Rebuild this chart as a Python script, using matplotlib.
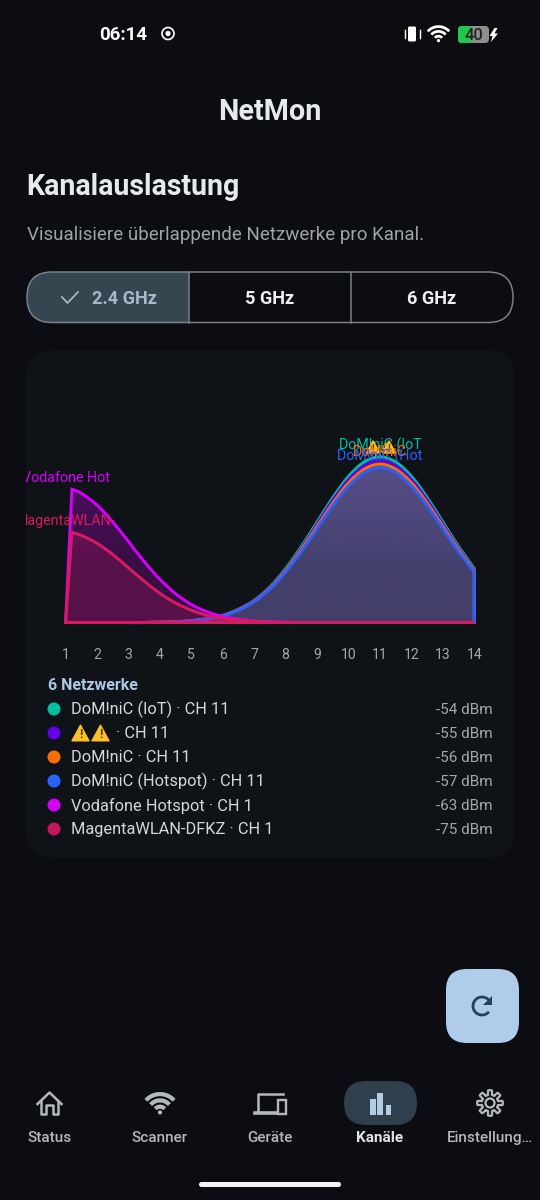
import numpy as np
import matplotlib
matplotlib.use("Agg")
import matplotlib.pyplot as plt
from matplotlib.patches import Circle, FancyBboxPatch, PathPatch, Polygon, Rectangle
from matplotlib.path import Path

plt.rcParams["font.family"] = ["Roboto", "DejaVu Sans"]

# channel grids the curves were read on
channels = [1, 1.5, 2, 2.5, 3, 3.5, 4, 4.5, 5, 5.5, 6, 6.5, 7, 7.5, 8, 8.5, 9, 9.5,
            10, 10.5, 11, 11.5, 12, 12.5, 13, 13.5, 14]
channels_low = [1, 1.2, 1.5, 2, 2.5, 3, 3.5, 4, 4.5, 5, 5.5, 6, 6.5, 7, 7.5, 8, 8.5,
                9, 9.5, 10, 11, 12, 13, 14]

# signal curves in dBm
iot = [-100, -100, -100, -100, -100, -100, -99.9, -99.8, -99.5, -98.9, -98.0, -96.3, -93.8,
       -90.1, -85.0, -78.9, -72.1, -65.3, -59.4, -55.4, -54, -55.4, -59.4, -65.3, -72.1, -78.9, -85.0]
warn = [-100, -100, -100, -100, -100, -100, -99.9, -99.8, -99.5, -99.0, -98.0, -96.4, -93.9,
        -90.3, -85.4, -79.4, -72.7, -66.0, -60.3, -56.4, -55, -56.4, -60.3, -66.0, -72.7, -79.4, -85.4]
dominic = [-100, -100, -100, -100, -100, -100, -99.9, -99.8, -99.5, -99.0, -98.1, -96.5, -94.1,
           -90.5, -85.7, -79.8, -73.3, -66.8, -61.2, -57.4, -56, -57.4, -61.2, -66.8, -73.3, -79.8, -85.7]
hotspot = [-100, -100, -100, -100, -100, -100, -99.9, -99.8, -99.5, -99.0, -98.1, -96.6, -94.2,
           -90.7, -86.0, -80.3, -73.9, -67.5, -62.1, -58.3, -57, -58.3, -62.1, -67.5, -73.9, -80.3, -86.0]
vodafone = [-100, -63, -64.1, -67.4, -72.1, -77.5, -83.1, -88.0, -92.0, -95.0, -97.0, -98.4,
            -99.1, -99.6, -99.8, -99.9, -100, -100, -100, -100, -100, -100, -100, -100]
magenta = [-100, -75, -75.8, -78.0, -81.1, -84.8, -88.5, -91.9, -94.6, -96.6, -98.0, -98.9,
           -99.4, -99.7, -99.9, -100, -100, -100, -100, -100, -100, -100, -100, -100]

names = ["DoM!niC (IoT)", "\u26a0\u26a0", "DoM!niC", "DoM!niC (Hotspot)", "Vodafone Hotspot", "MagentaWLAN-DFKZ"]
peak_channels = [11, 11, 11, 11, 1, 1]
levels = [-54, -55, -56, -57, -63, -75]
colors = ["#00BFA5", "#6200EA", "#FF6D00", "#2962FF", "#D500F9", "#D81B60"]
dot_colors = ["#00BFA5", "#6200EA", "#FF6D00", "#2962FF", "#D500F9", "#C2185B"]
tick_channels = list(range(1, 15))

BG = "#0b0d12"
CARD = "#0f1317"
ICON = "#b4b8bc"
ACTIVE = "#b3cde4"

# pixel placement of the plot area
PX_CH1, PX_CH14, PX_FLOOR, PX_PER_DB = 65.6, 474.3, 622.5, 3.6
AX_L, AX_R, AX_T, AX_B = 26, 514, 360, 626


def px(size):
    return size * 0.72


def arc(target, cx, cy, r, a0, a1, color, lw):
    t = np.radians(np.linspace(a0, a1, 40))
    target.plot(cx + r * np.cos(t), cy - r * np.sin(t), color=color, lw=lw, solid_capstyle="butt")


def wifi_icon(target, cx, cy, s, color, lw):
    for r in (0.6, 1.2, 1.8):
        arc(target, cx, cy, r * s, 42, 138, color, lw)
    target.add_patch(Circle((cx, cy - 0.05 * s), 0.2 * s, color=color, lw=0))


def warn_mark(target, x, y, w):
    # yellow emoji look: filled triangle with a dark bang
    h = w * 0.92
    tri = Polygon([(x, y + h / 2), (x + w, y + h / 2), (x + w / 2, y - h / 2)], closed=True,
                  fc="#fbc02d", ec="#fbc02d", lw=1, joinstyle="round", zorder=20)
    target.add_patch(tri)
    target.text(x + w / 2, y + 1.5, "!", color="#5a4208", ha="center", va="center",
                fontsize=px(w * 0.75), fontweight="bold", zorder=21)


def curve_path(xs, ys):
    pts = np.column_stack([xs, ys])
    verts = [pts[0], pts[1]]
    codes = [Path.MOVETO, Path.LINETO]
    n = len(pts)
    for i in range(1, n - 1):
        prev_pt = pts[i - 1] if i > 1 else pts[i]
        next_pt = pts[i + 2] if i + 2 < n else pts[i + 1]
        verts += [pts[i] + (pts[i + 1] - prev_pt) / 6, pts[i + 1] - (next_pt - pts[i]) / 6, pts[i + 1]]
        codes += [Path.CURVE4] * 3
    verts += [(xs[-1], -100), (xs[0], -100), pts[0]]
    codes += [Path.LINETO, Path.LINETO, Path.CLOSEPOLY]
    return Path(verts, codes)


def draw_series(ax, xs, ys, color, zorder, top):
    path = curve_path(xs, ys)
    rgb = matplotlib.colors.to_rgb(color)
    grad = np.zeros((2, 1, 4))
    grad[..., :3] = rgb
    grad[0, 0, 3] = 0.31
    grad[1, 0, 3] = 0.2
    img = ax.imshow(grad, extent=(1, 14, -100, top), origin="upper", aspect="auto",
                    interpolation="bilinear", zorder=zorder)
    outline = PathPatch(path, fc="none", ec=color, lw=px(3), joinstyle="miter", zorder=zorder + 0.5)
    ax.add_patch(outline)
    img.set_clip_path(outline)
    outline.set_clip_on(False)


fig = plt.figure(figsize=(5.4, 12), dpi=100, facecolor=BG)
ui = fig.add_axes([0, 0, 1, 1])
ui.set_xlim(0, 540)
ui.set_ylim(1200, 0)
ui.axis("off")

# status bar
ui.text(123.5, 34.5, "06:14", color="white", fontsize=px(18.8), fontweight="bold", ha="center", va="center")
ui.add_patch(Circle((168, 33.5), 6, fc="none", ec="white", lw=1.2))
ui.add_patch(Circle((168, 33.5), 2.6, color="white", lw=0))
ui.add_patch(FancyBboxPatch((408, 26.5), 8, 15, boxstyle="round,pad=0,rounding_size=1.5", fc="white", ec="none"))
ui.plot([404.5, 404.5], [30, 38], color="white", lw=1)
ui.plot([419.5, 419.5], [30, 38], color="white", lw=1)
wifi_icon(ui, 438.5, 41, 8, "white", 2)
batt = FancyBboxPatch((458, 26), 31, 17, boxstyle="round,pad=0,rounding_size=4", fc="#8e8e8e", ec="none")
ui.add_patch(batt)
green = Rectangle((458, 26), 13, 17, fc="#22c84e", ec="none")
ui.add_patch(green)
green.set_clip_path(batt)
ui.text(474, 35.5, "40", color="#222", fontsize=px(16.5), fontweight="medium", ha="center", va="center")
ui.add_patch(Polygon([(494.5, 28), (489.5, 36), (492.5, 36), (491, 42), (498, 33.5), (494.5, 33.5), (497.5, 28)],
                     closed=True, fc="white", ec="none"))

# header
ui.text(270, 112, "NetMon", color="#e6e9ee", fontsize=px(28.7), fontweight="bold", ha="center", va="center")
ui.text(26.5, 187, "Kanalauslastung", color="#e6e9ee", fontsize=px(28.5), fontweight="bold", va="center")
ui.text(27, 235, "Visualisiere \u00fcberlappende Netzwerke pro Kanal.", color="#9ea3a8",
        fontsize=px(18.8), va="center")

# band selector
seg = FancyBboxPatch((27, 272), 486, 50.5, boxstyle="round,pad=0,rounding_size=25", fc="none", ec="#7b8085", lw=1.1, zorder=3)
ui.add_patch(seg)
sel = Rectangle((27, 272), 162, 51, fc="#364651", ec="none", zorder=2)
ui.add_patch(sel)
sel.set_clip_path(seg)
ui.plot([189, 189], [272, 322.5], color="#7b8085", lw=1.1, zorder=3)
ui.plot([350.5, 350.5], [272, 322.5], color="#7b8085", lw=1.1, zorder=3)
ui.plot([62, 67.5, 78], [297, 303, 292], color="#aebfcd", lw=1.2, zorder=4)
ui.text(125, 298.5, "2.4 GHz", color="#a6b9c9", fontsize=px(18.2), fontweight="semibold", ha="center", va="center", zorder=4)
ui.text(270, 298.5, "5 GHz", color="#eef0f2", fontsize=px(18.2), fontweight="semibold", ha="center", va="center", zorder=4)
ui.text(431.5, 298.5, "6 GHz", color="#eef0f2", fontsize=px(18.2), fontweight="semibold", ha="center", va="center", zorder=4)

# card
ui.add_patch(FancyBboxPatch((26, 350), 488, 508, boxstyle="round,pad=0,rounding_size=28", fc=CARD, ec="none"))

# chart
px_per_ch = (PX_CH14 - PX_CH1) / 13
ax = fig.add_axes([AX_L / 540, 1 - AX_B / 1200, (AX_R - AX_L) / 540, (AX_B - AX_T) / 1200])
ax.patch.set_alpha(0)
for side in ax.spines.values():
    side.set_visible(False)
for grid_level in (-90, -70, -50):
    ax.axhline(grid_level, color="#171b20", lw=0.7, ls=(0, (2, 2)), zorder=0)

ch11_series = [iot, warn, dominic, hotspot]
ch1_series = [vodafone, magenta]
for i, ys in enumerate(ch11_series):
    draw_series(ax, channels, ys, colors[i], 2 + i, -46)
for i, ys in enumerate(ch1_series):
    draw_series(ax, channels_low, ys, colors[4 + i], 6 + i, -46)

ax.set_xlim(1 - (PX_CH1 - AX_L) / px_per_ch, 14 + (AX_R - PX_CH14) / px_per_ch)
ax.set_ylim(-100 - (AX_B - PX_FLOOR) / PX_PER_DB, -100 + (PX_FLOOR - AX_T) / PX_PER_DB)
ax.set_yticks([])
ax.set_xticks(tick_channels)
ax.tick_params(axis="x", length=0, pad=15.5, labelsize=px(14), labelcolor="#a3a7ab")

# name labels above each peak, cut to 12 chars like the app does
for i in (0, 4, 5):
    ax.annotate(names[i][:12], (peak_channels[i], levels[i]), xytext=(0, px(11.5)), textcoords="offset points",
                color=colors[i], fontsize=px(14.3), ha="center", va="center", clip_on=True, zorder=12)

# the stacked labels at channel 11 sit on top of the curves
top_layer = fig.add_axes([0, 0, 1, 1], xlim=(0, 540), ylim=(1200, 0))
top_layer.axis("off")
warn_x = PX_CH1 + 10 * px_per_ch
top_layer.text(warn_x, 448, names[1], color="#fbc02d", fontsize=px(14), ha="center", va="center",
               family="DejaVu Sans", zorder=19)
warn_mark(top_layer, warn_x - 13.5, 447, 13)
warn_mark(top_layer, warn_x + 2.5, 447, 13)
top_layer.text(warn_x, 452, names[2][:12], color=colors[2], fontsize=px(14.3), ha="center", va="center", zorder=22)
top_layer.text(warn_x, 456, names[3][:12], color=colors[3], fontsize=px(14.3), ha="center", va="center", zorder=23)

# legend
ui.text(48, 686, "6 Netzwerke", color="#a9c8e6", fontsize=px(16), fontweight="bold", va="center")
for row, (name, ch, level, color) in enumerate(zip(names, peak_channels, levels, dot_colors)):
    y = 709 + row * 24
    ui.add_patch(Circle((54, y), 6.5, color=color, lw=0))
    if name.startswith("\u26a0"):
        warn_mark(ui, 72, y, 17)
        warn_mark(ui, 92, y, 17)
        ui.text(116, y + 0.5, f"\u00b7 CH {ch}", color="#d3d6da", fontsize=px(16.4), va="center")
    else:
        ui.text(71, y + 0.5, f"{name} \u00b7 CH {ch}", color="#d3d6da", fontsize=px(16.4), va="center")
    ui.text(493, y + 0.5, f"{level} dBm", color="#a3a7ab", fontsize=px(15.3), ha="right", va="center")

# refresh button
ui.add_patch(FancyBboxPatch((446, 969), 73, 74, boxstyle="round,pad=0,rounding_size=21", fc="#afcdeb", ec="none"))
arc(ui, 482, 1006, 9, 30, 320, "#22425c", 2)
ui.add_patch(Polygon([(492, 996), (492, 1005), (483, 1005)], closed=True, fc="#22425c", ec="none"))

# bottom navigation
nav_x = [49.5, 160, 270, 380, 490]
nav_labels = ["Status", "Scanner", "Ger\u00e4te", "Kan\u00e4le", "Einstellung\u2026"]
ui.add_patch(FancyBboxPatch((344, 1081), 73, 44, boxstyle="round,pad=0,rounding_size=22", fc="#2f3f4b", ec="none"))
for x, label in zip(nav_x, nav_labels):
    active = label.startswith("Kan")
    ui.text(x, 1138, label, color="#e2e6ea" if active else ICON, fontsize=px(15.3),
            fontweight="bold" if active else "medium", ha="center", va="center")

# home
ui.plot([37.5, 49.5, 61.5], [1104, 1092.5, 1104], color=ICON, lw=1.8)
ui.plot([41, 41, 46, 46, 53, 53, 58, 58], [1101, 1113.5, 1113.5, 1105, 1105, 1113.5, 1113.5, 1101], color=ICON, lw=1.8)
# wifi
wifi_icon(ui, 160, 1113, 10.5, ICON, 3)
# devices
ui.plot([283, 258, 258], [1094, 1094, 1112], color=ICON, lw=1.8)
ui.plot([255, 277], [1113, 1113], color=ICON, lw=2.6)
ui.add_patch(Rectangle((278, 1099.5), 7.5, 14, fc="none", ec=ICON, lw=1.7))
# bars
for bx, by in ((370, 1099), (377, 1093), (385.5, 1105)):
    ui.add_patch(Rectangle((bx, by), 5.5, 1114.5 - by, fc=ACTIVE, ec="none"))
# gear
angles = np.radians(np.arange(0, 360, 1))
radius = 10.5 + 2.3 * np.clip(3 * np.cos(8 * angles), -1, 1)
ui.add_patch(Polygon(np.column_stack([490 + radius * np.cos(angles), 1103 + radius * np.sin(angles)]),
                     closed=True, fc="none", ec=ICON, lw=1.6, joinstyle="round"))
ui.add_patch(Circle((490, 1103), 4.5, fc="none", ec=ICON, lw=1.6))

# home indicator
ui.add_patch(FancyBboxPatch((199, 1182), 142, 5, boxstyle="round,pad=0,rounding_size=2.5", fc="#f2f3f5", ec="none"))

fig.savefig("out.png", dpi=100, facecolor=BG)
